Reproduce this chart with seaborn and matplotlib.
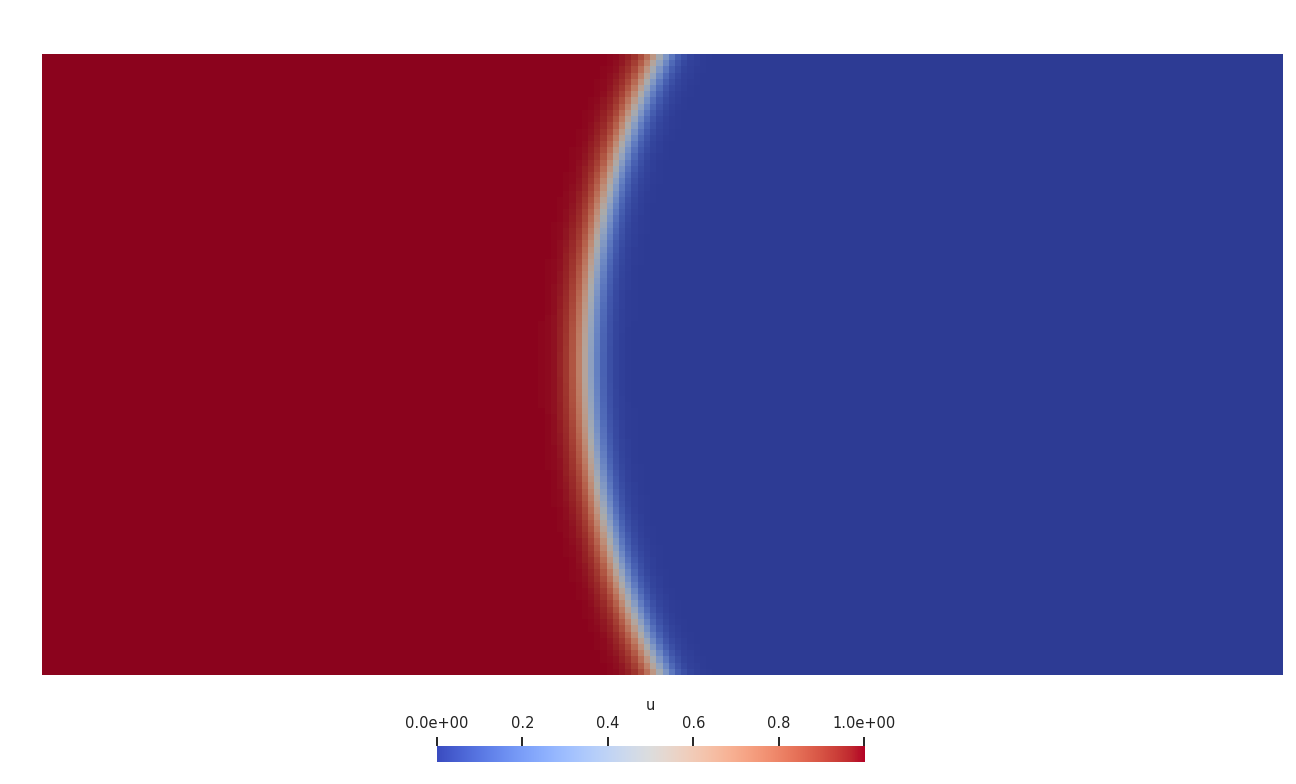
import numpy as np
import matplotlib
matplotlib.use("Agg")
import matplotlib.pyplot as plt
import seaborn as sns
from matplotlib.colors import ListedColormap

# ---- data (field model) ----
domain_x = [0.0, 2.0]
domain_y = [0.0, 1.0]
n_cells_x = 200
n_cells_y = 100
circle_center = [2.0, 0.5]
circle_radius = 1.122
interface_width = 0.027
field_name = "u"
cbar_ticks = [0.0, 0.2, 0.4, 0.6, 0.8, 1.0]
cbar_labels = ["0.0e+00", "0.2", "0.4", "0.6", "0.8", "1.0e+00"]
shading = 0.77

# ---- build field on the cell grid ----
xc = np.linspace(domain_x[0], domain_x[1], n_cells_x + 1)
yc = np.linspace(domain_y[0], domain_y[1], n_cells_y + 1)
xm = 0.5 * (xc[:-1] + xc[1:])
ym = 0.5 * (yc[:-1] + yc[1:])
X, Y = np.meshgrid(xm, ym)
r = np.hypot(X - circle_center[0], Y - circle_center[1])
U = 0.5 * (1.0 + np.tanh((r - circle_radius) / interface_width))

base = plt.get_cmap("coolwarm")
cols = base(np.linspace(0, 1, 256))
cols[:, :3] *= shading
lit_cmap = ListedColormap(cols)

sns.set_style("white")
fig = plt.figure(figsize=(12.96, 7.84), dpi=100)
W, H = 1296, 784
ax = fig.add_axes([42 / W, 1 - 675 / H, 1241 / W, 621 / H])
sns.heatmap(U[::-1], cmap=lit_cmap, vmin=0, vmax=1, cbar=False, ax=ax,
            xticklabels=False, yticklabels=False, rasterized=True)
ax.set_xlabel("")
ax.set_ylabel("")
for s in ax.spines.values():
    s.set_visible(False)

# colorbar
cax = fig.add_axes([437 / W, 1 - 762 / H, 427 / W, 16 / H])
grad = np.linspace(0, 1, 512)[None, :]
cax.imshow(grad, cmap="coolwarm", aspect="auto", extent=[0, 1, 0, 1], vmin=0, vmax=1)
cax.set_xlim(0, 1)
cax.set_ylim(0, 1)
cax.axis("off")
for t, lab in zip(cbar_ticks, cbar_labels):
    cax.plot([t, t], [1.0, 1.0 + 9 / 16], color="black", lw=1.2, clip_on=False,
             solid_capstyle="butt")
    cax.text(t, 1.0 + 15 / 16, lab, ha="center", va="bottom", fontsize=10.5,
             color="#222222", transform=cax.transData)
fig.text(650 / W, 1 - 706 / H, field_name, ha="center", va="center",
         fontsize=10.5, color="#222222")

fig.savefig("out.png", dpi=100, facecolor="white")
